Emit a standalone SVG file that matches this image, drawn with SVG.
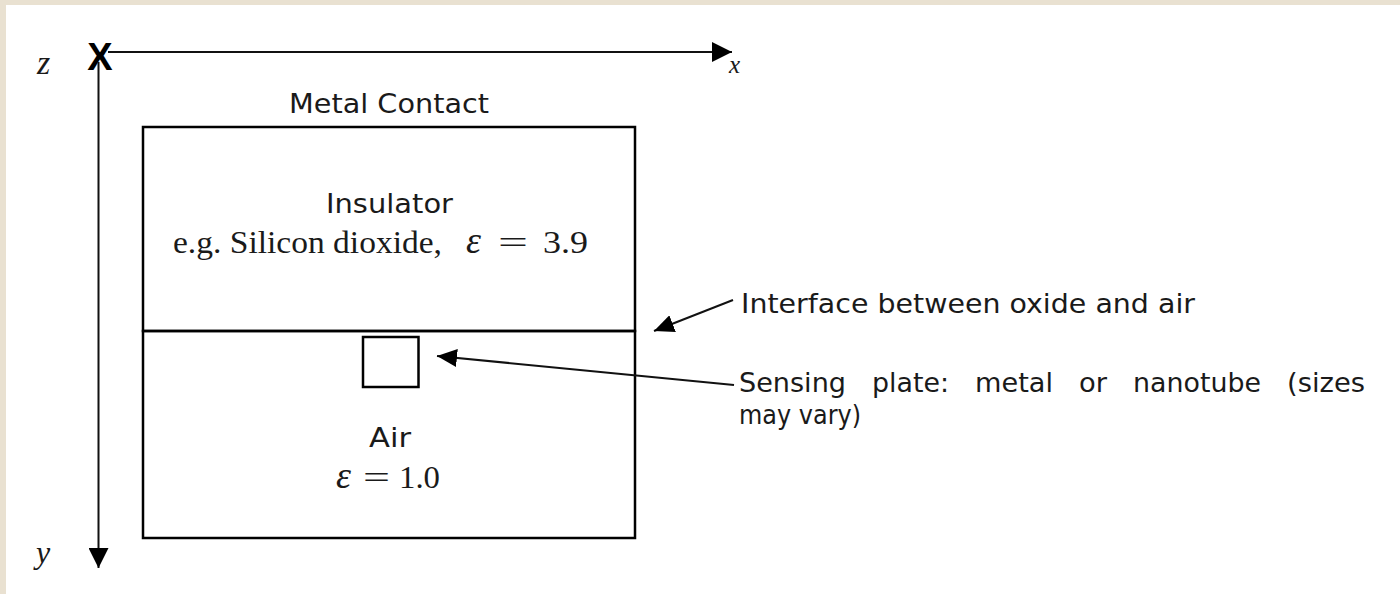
<svg xmlns="http://www.w3.org/2000/svg" width="1400" height="594" viewBox="0 0 1400 594">
  <style>
    .sans { font-family: "DejaVu Sans", "Liberation Sans", sans-serif; font-size: 27px; fill: #1a1a1a; }
    .serif { font-family: "Liberation Serif", "DejaVu Serif", serif; font-size: 32px; fill: #1a1a1a; }
    .math { font-family: "Liberation Serif", "DejaVu Serif", serif; font-style: italic; fill: #1a1a1a; }
    .edge { fill: none; stroke: #000; stroke-width: 2.5; }
    .axis { fill: none; stroke: #111; stroke-width: 2; }
    .pointer { fill: none; stroke: #111; stroke-width: 2; }
  </style>
  <defs>
    <marker id="head" markerUnits="userSpaceOnUse" markerWidth="20" markerHeight="20" refX="20" refY="10" orient="auto">
      <path d="M0,0 L20,10 L0,20 Z" fill="#000"/>
    </marker>
    <marker id="pointerHead" markerUnits="userSpaceOnUse" markerWidth="20" markerHeight="18" refX="20" refY="9" orient="auto">
      <path d="M0,0 L20,9 L0,18 Z" fill="#000"/>
    </marker>
  </defs>

  <!-- page background with tinted margin -->
  <rect x="0" y="0" width="1400" height="594" fill="#ffffff"/>
  <rect x="0" y="0" width="1400" height="5" fill="#e9e1d1"/>
  <rect x="0" y="0" width="6" height="594" fill="#e9e1d1"/>

  <!-- coordinate axes -->
  <g id="axes">
    <text x="100" y="70" text-anchor="middle" style="font-family: 'Liberation Sans', sans-serif; font-weight: bold; font-size: 38px; fill: #000;">X</text>
    <line class="axis" x1="108" y1="52" x2="732" y2="52" marker-end="url(#head)"/>
    <line class="axis" x1="98.5" y1="62" x2="98.5" y2="568" marker-end="url(#head)"/>
    <text class="math" x="37" y="74" font-size="34">z</text>
    <text class="math" x="729" y="73" font-size="25">x</text>
    <text class="math" x="36" y="563" font-size="32">y</text>
  </g>

  <!-- layered structure -->
  <g id="metal-contact">
    <text class="sans" x="289" y="113" textLength="200" lengthAdjust="spacingAndGlyphs">Metal Contact</text>
  </g>

  <g id="insulator">
    <rect class="edge" x="143" y="127" width="492" height="204"/>
    <text class="sans" x="326" y="213" textLength="127" lengthAdjust="spacingAndGlyphs">Insulator</text>
    <text class="serif" x="173" y="253" textLength="269" lengthAdjust="spacingAndGlyphs">e.g. Silicon dioxide,</text>
    <text class="math" x="466" y="253" font-size="38">ε</text>
    <text class="serif" x="498" y="253" textLength="30" lengthAdjust="spacingAndGlyphs">=</text>
    <text class="serif" x="543" y="253" textLength="45" lengthAdjust="spacingAndGlyphs">3.9</text>
  </g>

  <g id="air">
    <rect class="edge" x="143" y="331" width="492" height="207"/>
    <text class="sans" x="369" y="447" textLength="42" lengthAdjust="spacingAndGlyphs">Air</text>
    <text class="math" x="336" y="488" font-size="38">ε</text>
    <text class="serif" x="363" y="488" textLength="27" lengthAdjust="spacingAndGlyphs">=</text>
    <text class="serif" x="399" y="488" textLength="41" lengthAdjust="spacingAndGlyphs">1.0</text>
  </g>

  <g id="sensing-plate">
    <rect class="edge" x="363" y="337" width="55.5" height="50"/>
  </g>

  <!-- callout labels -->
  <g id="interface-label">
    <text class="sans" x="741" y="313" textLength="454" lengthAdjust="spacingAndGlyphs">Interface between oxide and air</text>
  </g>

  <!-- justified two-line caption: words spaced evenly between 739 and 1365 -->
  <g id="sensing-label">
    <text class="sans" x="739" y="392" textLength="107" lengthAdjust="spacingAndGlyphs">Sensing</text>
    <text class="sans" x="872" y="392" textLength="77" lengthAdjust="spacingAndGlyphs">plate:</text>
    <text class="sans" x="975" y="392" textLength="78" lengthAdjust="spacingAndGlyphs">metal</text>
    <text class="sans" x="1079" y="392" textLength="28" lengthAdjust="spacingAndGlyphs">or</text>
    <text class="sans" x="1133" y="392" textLength="128" lengthAdjust="spacingAndGlyphs">nanotube</text>
    <text class="sans" x="1287" y="392" textLength="78" lengthAdjust="spacingAndGlyphs">(sizes</text>
    <text class="sans" x="739" y="424" textLength="122" lengthAdjust="spacingAndGlyphs">may vary)</text>
  </g>

  <!-- pointer connectors -->
  <g id="connectors">
    <line class="pointer" x1="733" y1="300" x2="654" y2="331" marker-end="url(#pointerHead)"/>
    <line class="pointer" x1="734" y1="385" x2="437" y2="356" marker-end="url(#pointerHead)"/>
  </g>
</svg>
